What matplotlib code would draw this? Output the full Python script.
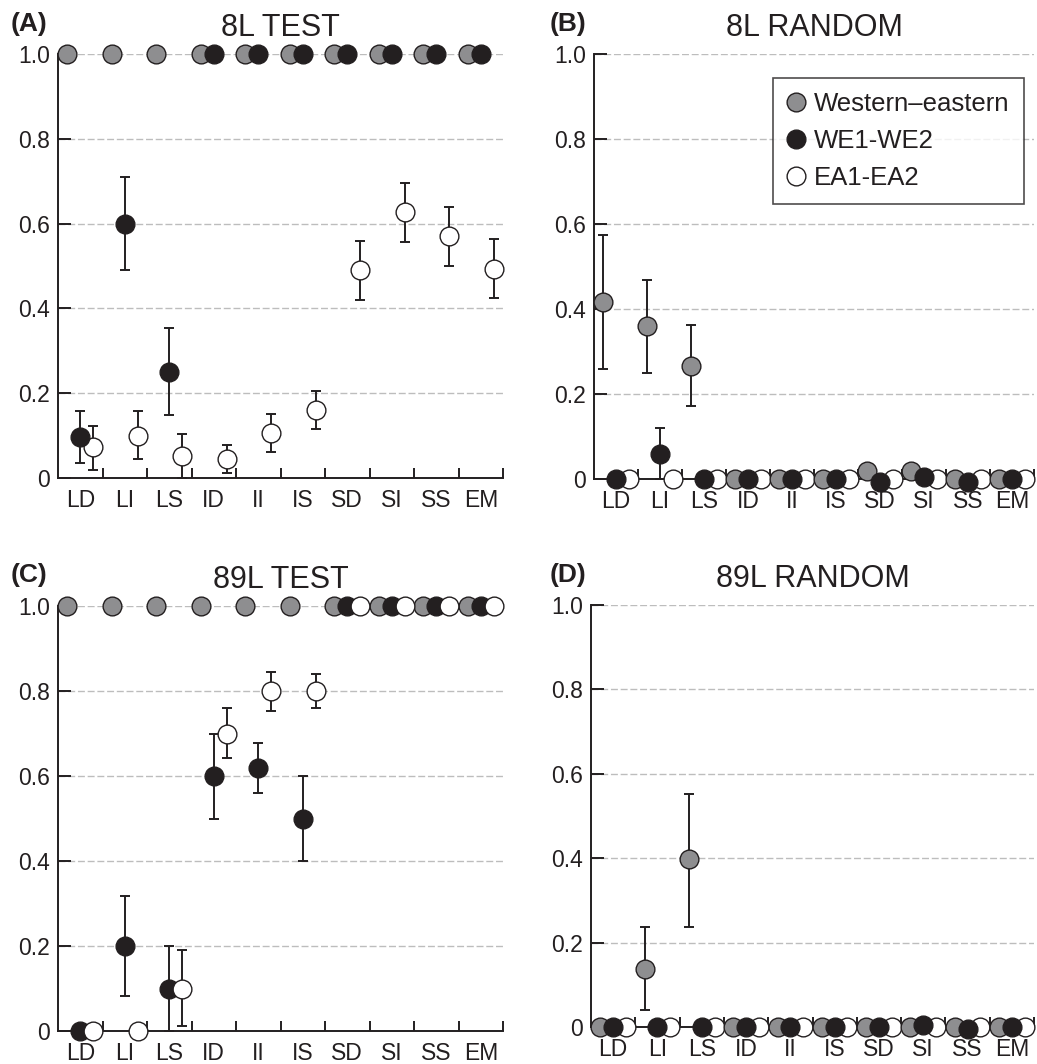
import numpy as np
import matplotlib
matplotlib.use("Agg")
import matplotlib.pyplot as plt
from matplotlib.lines import Line2D

plt.rcParams['font.family'] = ['Liberation Sans', 'DejaVu Sans']

nan = np.nan
categories = ['LD', 'LI', 'LS', 'ID', 'II', 'IS', 'SD', 'SI', 'SS', 'EM']
series_names = ['Western\u2013eastern', 'WE1-WE2', 'EA1-EA2']
titles = ['8L TEST', '8L RANDOM', '89L TEST', '89L RANDOM']
panel_labels = ['(A)', '(B)', '(C)', '(D)']

# Panel A: 8L TEST
A_gray = [1, 1, 1, 1, 1, 1, 1, 1, 1, 1]
A_gray_lo = [nan] * 10
A_gray_hi = [nan] * 10
A_black = [0.096, 0.60, 0.25, 1, 1, 1, 1, 1, 1, 1]
A_black_lo = [0.035, 0.49, 0.148, nan, nan, nan, nan, nan, nan, nan]
A_black_hi = [0.157, 0.71, 0.354, nan, nan, nan, nan, nan, nan, nan]
A_white = [0.072, 0.10, 0.051, 0.045, 0.107, 0.161, 0.49, 0.628, 0.57, 0.494]
A_white_lo = [0.019, 0.045, 0.0, 0.011, 0.061, 0.115, 0.42, 0.557, 0.50, 0.424]
A_white_hi = [0.122, 0.157, 0.103, 0.078, 0.152, 0.205, 0.56, 0.696, 0.64, 0.563]

# Panel B: 8L RANDOM
B_gray = [0.417, 0.36, 0.267, 0, 0, 0, 0.018, 0.018, 0, 0]
B_gray_lo = [0.26, 0.25, 0.171, nan, nan, nan, nan, nan, nan, nan]
B_gray_hi = [0.575, 0.469, 0.362, nan, nan, nan, nan, nan, nan, nan]
B_black = [0, 0.06, 0, 0, 0, 0, -0.008, 0.005, -0.006, 0]
B_black_lo = [nan, 0.0, nan, nan, nan, nan, nan, nan, nan, nan]
B_black_hi = [nan, 0.119, nan, nan, nan, nan, nan, nan, nan, nan]
B_white = [0, 0, 0, 0, 0, 0, 0, 0, 0, 0]
B_white_lo = [nan] * 10
B_white_hi = [nan] * 10

# Panel C: 89L TEST
C_gray = [1, 1, 1, 1, 1, 1, 1, 1, 1, 1]
C_gray_lo = [nan] * 10
C_gray_hi = [nan] * 10
C_black = [0, 0.2, 0.1, 0.6, 0.618, 0.5, 1, 1, 1, 1]
C_black_lo = [nan, 0.082, 0.0, 0.5, 0.56, 0.4, nan, nan, nan, nan]
C_black_hi = [nan, 0.318, 0.2, 0.7, 0.678, 0.6, nan, nan, nan, nan]
C_white = [0, 0, 0.1, 0.7, 0.8, 0.8, 1, 1, 1, 1]
C_white_lo = [nan, nan, 0.012, 0.642, 0.753, 0.76, nan, nan, nan, nan]
C_white_hi = [nan, nan, 0.19, 0.76, 0.845, 0.84, nan, nan, nan, nan]

# Panel D: 89L RANDOM
D_gray = [0, 0.138, 0.397, 0, 0, 0, 0, 0, 0, 0]
D_gray_lo = [nan, 0.04, 0.238, nan, nan, nan, nan, nan, nan, nan]
D_gray_hi = [nan, 0.236, 0.552, nan, nan, nan, nan, nan, nan, nan]
D_black = [0, 0, 0, 0, 0, 0, 0, 0.004, -0.004, 0]
D_black_lo = [nan] * 10
D_black_hi = [nan] * 10
D_white = [0, 0, 0, 0, 0, 0, 0, 0, 0, 0]
D_white_lo = [nan] * 10
D_white_hi = [nan] * 10

panels = [
    ((A_gray, A_gray_lo, A_gray_hi), (A_black, A_black_lo, A_black_hi), (A_white, A_white_lo, A_white_hi)),
    ((B_gray, B_gray_lo, B_gray_hi), (B_black, B_black_lo, B_black_hi), (B_white, B_white_lo, B_white_hi)),
    ((C_gray, C_gray_lo, C_gray_hi), (C_black, C_black_lo, C_black_hi), (C_white, C_white_lo, C_white_hi)),
    ((D_gray, D_gray_lo, D_gray_hi), (D_black, D_black_lo, D_black_hi), (D_white, D_white_lo, D_white_hi)),
]

colors = ['#8e8e90', '#231f20', '#ffffff']
offsets = [-0.29, 0.0, 0.29]
# z-order per panel (gray, black, white)
zorders = [(4, 5, 3), (4, 5, 3), (3, 4, 5), (4, 5, 3)]

axes_rects = [
    [58 / 1037, (1064 - 478) / 1064, 445 / 1037, 424 / 1064],
    [594 / 1037, (1064 - 479) / 1064, 440 / 1037, 425 / 1064],
    [58 / 1037, (1064 - 1031) / 1064, 445 / 1037, 425 / 1064],
    [591 / 1037, (1064 - 1027) / 1064, 443 / 1037, 422 / 1064],
]

fig = plt.figure(figsize=(10.37, 10.64), dpi=100)
ink = '#231f20'
x = np.arange(len(categories))

for p, rect in enumerate(axes_rects):
    ax = fig.add_axes(rect)
    ax.set_xlim(-0.5, len(categories) - 0.5)
    ax.set_ylim(0, 1.0)
    for s, (vals, lo, hi) in enumerate(panels[p]):
        vals = np.array(vals, dtype=float)
        lo = np.array(lo, dtype=float)
        hi = np.array(hi, dtype=float)
        xs = x + offsets[s]
        m = ~np.isnan(lo)
        if m.any():
            ax.errorbar(xs[m], vals[m], yerr=[vals[m] - lo[m], hi[m] - vals[m]],
                        fmt='none', ecolor=ink, elinewidth=1.4, capsize=3.5,
                        capthick=1.4, zorder=2, clip_on=False)
        ax.plot(xs, vals, linestyle='none', marker='o', markersize=13.5,
                markerfacecolor=colors[s], markeredgecolor=ink,
                markeredgewidth=1.0, zorder=zorders[p][s], clip_on=False)
    # grid
    for gy in [0.2, 0.4, 0.6, 0.8, 1.0]:
        ax.axhline(gy, color='#bdbdbd', linestyle=(0, (5, 2)), linewidth=1.0, zorder=1)
    for side in ['top', 'right']:
        ax.spines[side].set_visible(False)
    for side in ['left', 'bottom']:
        ax.spines[side].set_color(ink)
        ax.spines[side].set_linewidth(1.4)
        ax.spines[side].set_zorder(1.5)
    ax.set_yticks([0, 0.2, 0.4, 0.6, 0.8, 1.0])
    ax.set_yticklabels(['0', '0.2', '0.4', '0.6', '0.8', '1.0'], fontsize=16.5, color=ink)
    ax.tick_params(axis='y', direction='in', length=9, width=1.4, color=ink, pad=6)
    ax.set_xticks(x)
    ax.set_xticklabels(categories, fontsize=16.5, color=ink)
    ax.tick_params(axis='x', which='major', length=0, pad=8)
    ax.set_xticks(np.arange(len(categories)) + 0.5, minor=True)
    ax.tick_params(axis='x', which='minor', direction='in', length=7, width=1.4, color=ink)
    ax.set_title(titles[p], fontsize=22, color=ink, pad=13)
    ax.patch.set_visible(False)

# panel labels
fig.text(11 / 1037, 1 - 24 / 1064, panel_labels[0], fontsize=19, fontweight='bold', color=ink, va='center')
fig.text(550 / 1037, 1 - 24 / 1064, panel_labels[1], fontsize=19, fontweight='bold', color=ink, va='center')
fig.text(11 / 1037, 1 - 575 / 1064, panel_labels[2], fontsize=19, fontweight='bold', color=ink, va='center')
fig.text(550 / 1037, 1 - 575 / 1064, panel_labels[3], fontsize=19, fontweight='bold', color=ink, va='center')

# legend in panel B
axB = fig.axes[1]
handles = [Line2D([0], [0], linestyle='none', marker='o', markersize=13.5,
                  markerfacecolor=colors[i], markeredgecolor=ink, markeredgewidth=1.0)
           for i in range(3)]
leg = axB.legend(handles, series_names, loc='upper right', bbox_to_anchor=(1.0 - 10 / 440, 1.0 - 24 / 425),
                 fontsize=18.5, frameon=True, fancybox=False, handlelength=0.7,
                 handletextpad=0.35, borderpad=0.55, labelspacing=0.5, borderaxespad=0)
leg.get_frame().set_edgecolor(ink)
leg.get_frame().set_linewidth(1.2)
leg.set_zorder(10)
for t in leg.get_texts():
    t.set_color(ink)

fig.savefig('out.png', dpi=100)
